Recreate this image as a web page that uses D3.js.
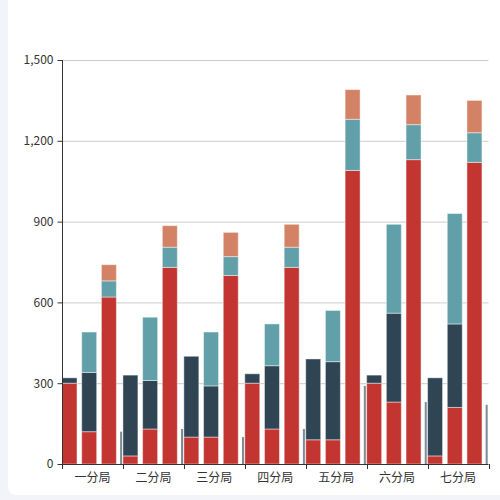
<!DOCTYPE html>
<html>
<head>
<meta charset="utf-8">
<script src="https://cdn.jsdelivr.net/npm/d3@7"></script>
<style>
  html, body { margin: 0; padding: 0; background: #f3f4f9; overflow: hidden; }
  #card { position: absolute; left: 8px; top: -10px; width: 510px; height: 505px;
          background: #fff; border-radius: 8px; }
  svg { position: absolute; left: 0; top: 0; }
</style>
</head>
<body>
<div id="card"></div>
<div id="chart"></div>
<script>
const categories = ["一分局", "二分局", "三分局", "四分局", "五分局", "六分局", "七分局"];

// cột 1: đỏ + xanh đậm
const bar1Red  = [300, 30, 100, 300, 90, 300, 30];
const bar1Dark = [20, 300, 300, 35, 300, 30, 290];
// cột 2: đỏ + xanh đậm + xanh ngọc
const bar2Red  = [120, 130, 100, 130, 90, 230, 210];
const bar2Dark = [220, 180, 190, 235, 290, 330, 310];
const bar2Teal = [150, 235, 200, 155, 190, 330, 410];
// cột 3: đỏ + xanh ngọc + cam
const bar3Red    = [620, 730, 700, 730, 1090, 1130, 1120];
const bar3Teal   = [60, 75, 70, 75, 190, 130, 110];
const bar3Orange = [60, 80, 90, 85, 110, 110, 120];
// vạch mảnh cuối mỗi nhóm
const thinBar = [120, 130, 100, 130, 290, 230, 220];

const yTicks = [0, 300, 600, 900, 1200, 1500];

(() => {
    const left = 62, right = 488.5, top = 60, bottom = 464;

    const svg = d3.select("#chart")
        .append("svg")
        .attr("width", 500)
        .attr("height", 500);

    const x = d3.scaleBand()
        .domain(categories)
        .range([left, right])
        .padding(0);

    const y = d3.scaleLinear()
        .domain([0, 1500])
        .range([bottom, top]);

    const bw = x.bandwidth();
    const slot = d3.scaleLinear().domain([0, 3]).range([0, bw * 0.97]);
    const barW = bw * 0.246;

    // lưới ngang
    svg.append("g")
        .selectAll("line")
        .data(yTicks.filter(d => d > 0))
        .enter()
        .append("line")
        .attr("x1", left)
        .attr("x2", right)
        .attr("y1", d => y(d) + 0.5)
        .attr("y2", d => y(d) + 0.5)
        .attr("stroke", "#cccccc")
        .attr("stroke-width", 1);

    const colors = { red: "#c23531", dark: "#2f4554", teal: "#61a0a8", orange: "#d48265" };

    // mỗi cột là một chồng các lớp
    const stacks = [
        { slot: 0, layers: [[bar1Red, colors.red], [bar1Dark, colors.dark]] },
        { slot: 1, layers: [[bar2Red, colors.red], [bar2Dark, colors.dark], [bar2Teal, colors.teal]] },
        { slot: 2, layers: [[bar3Red, colors.red], [bar3Teal, colors.teal], [bar3Orange, colors.orange]] }
    ];

    const rects = [];
    stacks.forEach(s => {
        categories.forEach((c, i) => {
            let base = 0;
            s.layers.forEach(([arr, col]) => {
                rects.push({ cat: c, slot: s.slot, y0: base, y1: base + arr[i], color: col });
                base += arr[i];
            });
        });
    });

    svg.append("g")
        .selectAll("rect")
        .data(rects)
        .enter()
        .append("rect")
        .attr("x", d => x(d.cat) + slot(d.slot))
        .attr("y", d => y(d.y1))
        .attr("width", barW)
        .attr("height", d => y(d.y0) - y(d.y1))
        .attr("fill", d => d.color)
        .attr("stroke", "rgba(255,255,255,0.45)")
        .attr("stroke-width", 1);

    svg.append("g")
        .selectAll("rect")
        .data(categories)
        .enter()
        .append("rect")
        .attr("x", d => x(d) + slot(3) - 1)
        .attr("y", (d, i) => y(thinBar[i]))
        .attr("width", 2)
        .attr("height", (d, i) => bottom - y(thinBar[i]))
        .attr("fill", "#7d8b94");

    // trục y
    const yAxis = svg.append("g")
        .attr("transform", `translate(${left + 0.5},0)`)
        .call(d3.axisLeft(y).tickValues(yTicks).tickSize(5).tickPadding(4).tickFormat(d3.format(",")));
    yAxis.select(".domain").attr("stroke", "#333").attr("d", `M0,${top}V${bottom}`);
    yAxis.selectAll(".tick line").attr("stroke", "#333");
    yAxis.selectAll("text")
        .attr("fill", "#333")
        .style("font-size", "12px")
        .style("font-family", "'Noto Sans CJK SC', 'DejaVu Sans', sans-serif");

    // trục x
    const xAxis = svg.append("g")
        .attr("transform", `translate(0,${bottom + 0.5})`)
        .call(d3.axisBottom(x).tickSize(0).tickPadding(9));
    xAxis.select(".domain").attr("stroke", "#333").attr("d", `M${left},0H${right}`);
    xAxis.selectAll("text")
        .attr("fill", "#333")
        .style("font-size", "12px")
        .style("font-family", "'Noto Sans CJK SC', sans-serif");

    // vạch chia giữa các nhóm
    svg.append("g")
        .selectAll("line")
        .data(categories.map(c => x(c)).concat([right]))
        .enter()
        .append("line")
        .attr("x1", d => Math.round(d) + 0.5)
        .attr("x2", d => Math.round(d) + 0.5)
        .attr("y1", bottom)
        .attr("y2", bottom + 5)
        .attr("stroke", "#333");
})();
</script>
</body>
</html>
